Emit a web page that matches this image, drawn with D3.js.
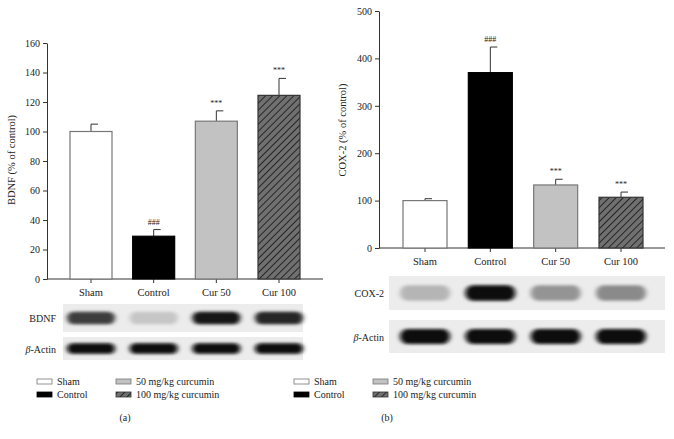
<!DOCTYPE html>
<html><head><meta charset="utf-8">
<script src="https://cdn.jsdelivr.net/npm/d3@7"></script>
<style>body{margin:0;background:#fff}text{font-family:"Liberation Serif",serif;fill:#222}</style>
</head><body><div id="chart"></div>
<script>
var groups = ["Sham", "Control", "Cur 50", "Cur 100"];
var bdnfMean = [100, 29, 107, 124.5];
var bdnfErr = [5, 4.5, 7, 11.5];
var bdnfMarks = ["", "###", "***", "***"];
var coxMean = [100, 370, 133, 107];
var coxErr = [4, 54, 12, 11];
var coxMarks = ["", "###", "***", "***"];
// blot band darkness 0..1
var bdnfBands = [0.75, 0.12, 0.95, 0.85];
var actinLeft = [1, 1, 1, 1];
var coxBands = [0.2, 1, 0.35, 0.4];
var actinRight = [1, 1, 1, 1];
var legendItems = ["Sham", "Control", "50 mg/kg curcumin", "100 mg/kg curcumin"];

var svg = d3.select("#chart").append("svg").attr("width", 674).attr("height", 439);
var defs = svg.append("defs");
var pat = defs.append("pattern").attr("id", "hatch").attr("patternUnits", "userSpaceOnUse")
	.attr("width", 5).attr("height", 5).attr("patternTransform", "rotate(45)");
pat.append("rect").attr("width", 5).attr("height", 5).attr("fill", "#707070");
pat.append("line").attr("x1", 0).attr("y1", 0).attr("x2", 0).attr("y2", 5).attr("stroke", "#111").attr("stroke-width", 1.6);
defs.append("filter").attr("id", "blur").attr("x", "-30%").attr("y", "-80%").attr("width", "160%").attr("height", "260%")
	.append("feGaussianBlur").attr("stdDeviation", "2.5 1.6");

var fills = ["#fff", "#000", "#c2c2c2", "url(#hatch)"];
var strokes = ["#777", "#000", "#777", "#333"];

function panel(o) {
	var x = d3.scalePoint().domain(groups).range(o.xr);
	var y = d3.scaleLinear().domain([0, o.max]).range(o.yr);
	var g = svg.append("g");
	g.append("g").attr("transform", "translate(" + o.ax + ",0)")
		.call(d3.axisLeft(y).ticks(o.max / o.step).tickSize(4).tickSizeOuter(0))
		.call(function(s) { s.selectAll("text").style("font-size", "10px"); s.selectAll("line,path").attr("stroke", "#333"); });
	g.append("line").attr("x1", o.ax).attr("x2", o.axEnd).attr("y1", y(0)).attr("y2", y(0)).attr("stroke", "#333");
	groups.forEach(function(d, i) {
		var cx = x(d);
		g.append("line").attr("x1", cx).attr("x2", cx).attr("y1", y(0)).attr("y2", y(0) + 4).attr("stroke", "#333");
		g.append("text").attr("x", cx).attr("y", y(0) + 17).attr("text-anchor", "middle").style("font-size", "10.5px").text(d);
		var top = y(o.mean[i] + o.err[i]);
		g.append("line").attr("x1", cx).attr("x2", cx).attr("y1", top).attr("y2", y(o.mean[i])).attr("stroke", "#333");
		g.append("line").attr("x1", cx).attr("x2", cx + 7).attr("y1", top).attr("y2", top).attr("stroke", "#333");
		g.append("rect").attr("x", cx - o.bw / 2).attr("width", o.bw).attr("y", y(o.mean[i]))
			.attr("height", y(0) - y(o.mean[i])).attr("fill", fills[i]).attr("stroke", strokes[i]).attr("stroke-width", 1.2);
		g.append("text").attr("x", cx).attr("y", top - 5).attr("text-anchor", "middle").style("font-size", "8px").text(o.marks[i]);
	});
	g.append("text").attr("transform", "translate(" + o.labX + "," + o.labY + ") rotate(-90)")
		.attr("text-anchor", "middle").style("font-size", "10.5px").text(o.label);
	o.blots.forEach(function(b) {
		g.append("rect").attr("x", o.blotX[0]).attr("width", o.blotX[1] - o.blotX[0]).attr("y", b.y0).attr("height", b.y1 - b.y0).attr("fill", "#ececec");
		groups.forEach(function(d, i) {
			var v = b.vals[i], h = (b.y1 - b.y0) * 0.45;
			g.append("rect").attr("x", x(d) - o.bw / 2 - 3).attr("width", o.bw + 6)
				.attr("y", (b.y0 + b.y1) / 2 - h / 2).attr("height", h).attr("rx", h / 2)
				.attr("fill", d3.interpolateRgb("#e0e0e0", "#080808")(v)).attr("filter", "url(#blur)");
		});
		g.append("text").attr("x", o.blotLab).attr("y", (b.y0 + b.y1) / 2 + 4).attr("text-anchor", "end").style("font-size", "10px")
			.html(b.name === "actin" ? "<tspan font-style='italic'>β</tspan>-Actin" : b.name);
	});
	var lx = [o.leg, o.leg + 79];
	legendItems.forEach(function(t, i) {
		var cx = lx[Math.floor(i / 2)], cy = 382 + (i % 2) * 13;
		g.append("rect").attr("x", cx).attr("y", cy - 3).attr("width", 15).attr("height", 5)
			.attr("fill", fills[i]).attr("stroke", strokes[i]).attr("stroke-width", 0.8);
		g.append("text").attr("x", cx + 20).attr("y", cy + 3).style("font-size", "10px").text(t);
	});
	g.append("text").attr("x", o.cap).attr("y", 421).attr("text-anchor", "middle").style("font-size", "10px").text(o.capText);
}

panel({ xr: [91, 279], yr: [279, 43], max: 160, step: 20, ax: 47, axEnd: 323, bw: 42,
	mean: bdnfMean, err: bdnfErr, marks: bdnfMarks, label: "BDNF (% of control)", labX: 15, labY: 160,
	blotX: [63, 303], blotLab: 56,
	blots: [{ name: "BDNF", y0: 304, y1: 332, vals: bdnfBands }, { name: "actin", y0: 337, y1: 360, vals: actinLeft }],
	leg: 37, cap: 125, capText: "(a)" });
panel({ xr: [425, 621], yr: [248, 11], max: 500, step: 100, ax: 379, axEnd: 665, bw: 44,
	mean: coxMean, err: coxErr, marks: coxMarks, label: "COX-2 (% of control)", labX: 346, labY: 130,
	blotX: [389, 665], blotLab: 384,
	blots: [{ name: "COX-2", y0: 276, y1: 310, vals: coxBands }, { name: "actin", y0: 320, y1: 353, vals: actinRight }],
	leg: 294, cap: 387, capText: "(b)" });
</script></body></html>
